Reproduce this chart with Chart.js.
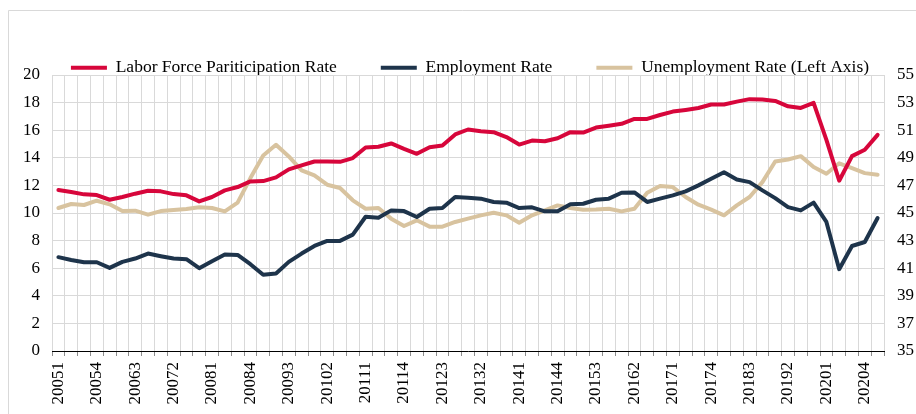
<!DOCTYPE html>
<html>
<head>
<meta charset="utf-8">
<script src="https://cdn.jsdelivr.net/npm/chart.js@4/dist/chart.umd.min.js"></script>
<style>
  html, body { margin: 0; padding: 0; background: #ffffff; }
  #c { display: block; }
</style>
</head>
<body>
<canvas id="c" width="916" height="414"></canvas>
<script>
const quarters = [
  "20051","20052","20053","20054","20061","20062","20063","20064",
  "20071","20072","20073","20074","20081","20082","20083","20084",
  "20091","20092","20093","20094","20101","20102","20103","20104",
  "20111","20112","20113","20114","20121","20122","20123","20124",
  "20131","20132","20133","20134","20141","20142","20143","20144",
  "20151","20152","20153","20154","20161","20162","20163","20164",
  "20171","20172","20173","20174","20181","20182","20183","20184",
  "20191","20192","20193","20194","20201","20202","20203","20204",
  "20211"
];

// Right axis (%)
const laborForceParticipation = [
  46.66, 46.52, 46.35, 46.30, 45.96, 46.16, 46.40, 46.61,
  46.57, 46.37, 46.28, 45.84, 46.16, 46.64, 46.88, 47.29,
  47.31, 47.58, 48.16, 48.45, 48.73, 48.73, 48.71, 48.98,
  49.75, 49.80, 50.04, 49.65, 49.29, 49.77, 49.89, 50.69,
  51.05, 50.93, 50.86, 50.50, 49.96, 50.25, 50.20, 50.42,
  50.86, 50.83, 51.19, 51.32, 51.46, 51.82, 51.82, 52.10,
  52.35, 52.47, 52.61, 52.86, 52.86, 53.07, 53.25, 53.22,
  53.12, 52.73, 52.61, 52.98, 50.30, 47.34, 49.12, 49.58,
  50.66
];

// Right axis (%)
const employmentRate = [
  41.80, 41.60, 41.43, 41.43, 41.02, 41.46, 41.70, 42.06,
  41.87, 41.70, 41.65, 41.00, 41.51, 41.99, 41.96, 41.29,
  40.52, 40.61, 41.46, 42.06, 42.61, 42.98, 42.98, 43.43,
  44.73, 44.66, 45.19, 45.14, 44.71, 45.31, 45.36, 46.16,
  46.11, 46.04, 45.80, 45.75, 45.36, 45.41, 45.12, 45.12,
  45.63, 45.67, 45.96, 46.04, 46.47, 46.49, 45.80, 46.04,
  46.28, 46.57, 47.00, 47.48, 47.96, 47.43, 47.24, 46.64,
  46.08, 45.43, 45.19, 45.75, 44.35, 40.93, 42.61, 42.90,
  44.64
];

// Left axis (%)
const unemploymentRate = [
  10.36, 10.65, 10.58, 10.89, 10.63, 10.14, 10.17, 9.88,
  10.14, 10.22, 10.29, 10.41, 10.36, 10.12, 10.75, 12.53,
  14.17, 14.94, 14.10, 13.09, 12.72, 12.05, 11.81, 10.92,
  10.31, 10.36, 9.59, 9.06, 9.47, 9.01, 9.01, 9.35,
  9.59, 9.83, 10.02, 9.83, 9.30, 9.83, 10.19, 10.55,
  10.36, 10.24, 10.26, 10.31, 10.12, 10.31, 11.47, 11.95,
  11.88, 11.16, 10.60, 10.24, 9.83, 10.55, 11.16, 12.24,
  13.73, 13.88, 14.12, 13.33, 12.84, 13.60, 13.25, 12.89,
  12.77
];

const leftTicks = { min: 0, max: 20, step: 2 };
const rightTicks = { min: 35, max: 55, step: 2 };

const seriesNames = [
  "Labor Force Pariticipation Rate",
  "Employment Rate",
  "Unemployment Rate (Left Axis)"
];

const RED = '#D7063B';
const NAVY = '#1E344B';
const TAN = '#D8C39F';
const GRID = '#d9d9d9';
const FONT = "'Liberation Serif', 'Times New Roman', serif";

const framePlugin = {
  id: 'frame',
  beforeDraw(chart) {
    const ctx = chart.ctx;
    ctx.save();
    ctx.fillStyle = '#ffffff';
    ctx.fillRect(0, 0, chart.width, chart.height);
    ctx.restore();
  },
  afterDraw(chart) {
    const ctx = chart.ctx;
    ctx.save();
    ctx.strokeStyle = GRID;
    ctx.lineWidth = 1;
    ctx.beginPath();
    ctx.moveTo(8.5, chart.height);
    ctx.lineTo(8.5, 10.5);
    ctx.lineTo(chart.width, 10.5);
    ctx.stroke();
    ctx.restore();
  }
};

const legendHeightPlugin = {
  id: 'legendHeight',
  beforeLayout(chart) {
    const lg = chart.legend;
    if (lg && !lg._patched) {
      const orig = lg.fit;
      lg.fit = function () {
        orig.call(this);
        this.height = 60;
      };
      lg._patched = true;
    }
  }
};

new Chart(document.getElementById('c'), {
  type: 'line',
  data: {
    labels: quarters,
    datasets: [
      {
        label: seriesNames[0],
        data: laborForceParticipation,
        yAxisID: 'yR',
        borderColor: RED,
        backgroundColor: RED,
        borderWidth: 4,
        pointRadius: 0,
        tension: 0,
        borderJoinStyle: 'round',
        borderCapStyle: 'round'
      },
      {
        label: seriesNames[1],
        data: employmentRate,
        yAxisID: 'yR',
        borderColor: NAVY,
        backgroundColor: NAVY,
        borderWidth: 4,
        pointRadius: 0,
        tension: 0,
        borderJoinStyle: 'round',
        borderCapStyle: 'round'
      },
      {
        label: seriesNames[2],
        data: unemploymentRate,
        yAxisID: 'yL',
        borderColor: TAN,
        backgroundColor: TAN,
        borderWidth: 4,
        pointRadius: 0,
        tension: 0,
        borderJoinStyle: 'round',
        borderCapStyle: 'round'
      }
    ]
  },
  options: {
    responsive: false,
    animation: false,
    devicePixelRatio: 1,
    layout: { padding: { left: 24, right: 0, top: 15, bottom: 0 } },
    plugins: {
      legend: {
        display: true,
        position: 'top',
        labels: {
          usePointStyle: true,
          pointStyle: 'line',
          pointStyleWidth: 36,
          boxWidth: 36,
          padding: 44,
          color: '#000',
          font: { family: FONT, size: 17.5 }
        }
      },
      tooltip: { enabled: false }
    },
    scales: {
      x: {
        type: 'category',
        offset: true,
        grid: {
          offset: true,
          color: GRID,
          lineWidth: 1,
          drawTicks: true,
          tickLength: 5,
          tickColor: '#8c8c8c'
        },
        border: { display: true, color: '#000', width: 1 },
        ticks: {
          autoSkip: false,
          maxRotation: 90,
          minRotation: 90,
          padding: 6,
          color: '#000',
          font: { family: FONT, size: 17 },
          callback: function (v, i) { return i % 3 === 0 ? quarters[i] : ''; }
        },
        afterFit: function (s) { s.height = 63; }
      },
      yL: {
        type: 'linear',
        position: 'left',
        min: leftTicks.min,
        max: leftTicks.max,
        grid: { color: GRID, lineWidth: 1, drawTicks: false },
        border: { display: false },
        ticks: {
          stepSize: leftTicks.step,
          padding: 12,
          color: '#000',
          font: { family: FONT, size: 17 }
        },
        afterFit: function (s) { s.width = 28; }
      },
      yR: {
        type: 'linear',
        position: 'right',
        min: rightTicks.min,
        max: rightTicks.max,
        grid: { display: false, drawTicks: false },
        border: { display: false },
        ticks: {
          stepSize: rightTicks.step,
          padding: 13,
          color: '#000',
          font: { family: FONT, size: 17 }
        },
        afterFit: function (s) { s.width = 32; }
      }
    }
  },
  plugins: [framePlugin, legendHeightPlugin]
});
</script>
</body>
</html>
